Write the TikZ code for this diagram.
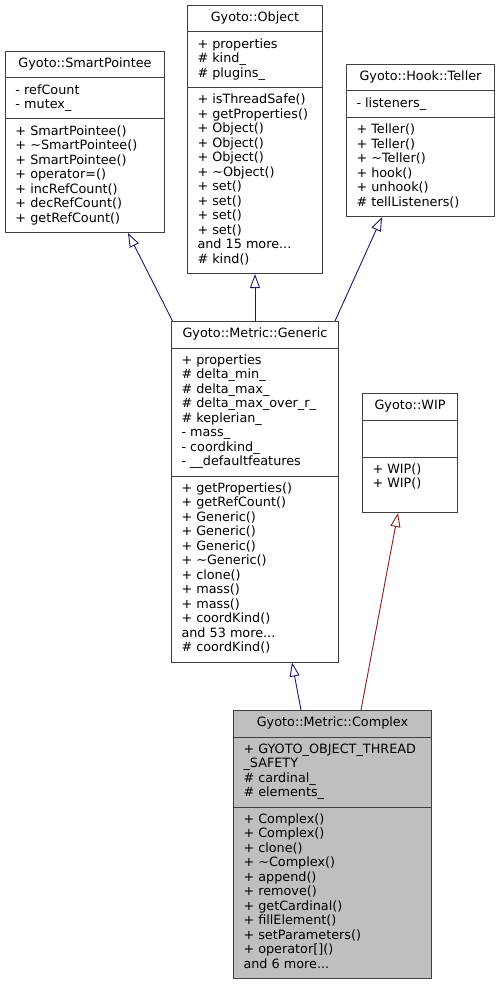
\documentclass[tikz,border=0pt]{standalone}
\usepackage{fontspec}
\setmainfont{DejaVu Sans}
\usepackage{tikz}
\usetikzlibrary{arrows.meta,positioning,shapes.multipart}

\definecolor{pubblue}{HTML}{191970}
\definecolor{privred}{HTML}{8B1A1A}
\definecolor{boxline}{HTML}{404040}
\definecolor{boxgray}{HTML}{BFBFBF}

\begin{document}
\begin{tikzpicture}[x=1pt, y=-1pt,
  cls/.style={rectangle split, rectangle split parts=3, draw=boxline, line width=1pt,
              font=\fontsize{12.8}{14.5}\selectfont, align=left,
              rectangle split part align={center,left,left},
              inner xsep=10pt, inner ysep=5.5pt, anchor=north west},
  inh/.style={-{Triangle[open, length=14pt, width=10pt]}, pubblue, line width=0.9pt}
]
  \useasboundingbox (0,0) rectangle (499,984);

  \node[cls, minimum width=135pt] (Object) at (187,5) {\strut Gyoto::Object
    \nodepart{two}\strut + properties\\\# kind\_\\\# plugins\_\strut
    \nodepart{three}\strut + isThreadSafe()\\+ getProperties()\\+ Object()\\+ Object()\\+ Object()\\+ \textasciitilde Object()\\+ set()\\+ set()\\+ set()\\+ set()\\and 15 more...\\\# kind()\strut};
  \node[cls, minimum width=159pt] (SmartPointee) at (5,51) {\strut Gyoto::SmartPointee
    \nodepart{two}\strut - refCount\\- mutex\_\strut
    \nodepart{three}\strut + SmartPointee()\\+ \textasciitilde SmartPointee()\\+ SmartPointee()\\+ operator=()\\+ incRefCount()\\+ decRefCount()\\+ getRefCount()\strut};
  \node[cls, minimum width=148pt] (Teller) at (346,64) {\strut Gyoto::Hook::Teller
    \nodepart{two}\strut - listeners\_\strut
    \nodepart{three}\strut + Teller()\\+ Teller()\\+ \textasciitilde Teller()\\+ hook()\\+ unhook()\\\# tellListeners()\strut};

  \node[cls, minimum width=167pt] (Generic) at (171,321) {\strut Gyoto::Metric::Generic
    \nodepart{two}\strut + properties\\\# delta\_min\_\\\# delta\_max\_\\\# delta\_max\_over\_r\_\\\# keplerian\_\\- mass\_\\- coordkind\_\\- \_\_defaultfeatures\strut
    \nodepart{three}\strut + getProperties()\\+ getRefCount()\\+ Generic()\\+ Generic()\\+ Generic()\\+ \textasciitilde Generic()\\+ clone()\\+ mass()\\+ mass()\\+ coordKind()\\and 53 more...\\\# coordKind()\strut};
  \node[cls, minimum width=95pt] (WIP) at (362,393) {\strut Gyoto::WIP
    \nodepart{two}\rule[-4.35pt]{0pt}{25pt}
    \nodepart{three}\strut + WIP()\\+ WIP()\\\strut};

  \node[cls, minimum width=198pt, fill=boxgray] (Complex) at (233,710) {\strut Gyoto::Metric::Complex
    \nodepart{two}\strut + GYOTO\_OBJECT\_THREAD\\\_SAFETY\\\# cardinal\_\\\# elements\_\strut
    \nodepart{three}\strut + Complex()\\+ Complex()\\+ clone()\\+ \textasciitilde Complex()\\+ append()\\+ remove()\\+ getCardinal()\\+ fillElement()\\+ setParameters()\\+ operator[]()\\and 6 more...\strut};

  \draw[inh] ([xshift=1.5pt]Generic.north west) -- ([xshift=-37pt]SmartPointee.south east);
  \draw[inh] (Generic.north) -- (Object.south);
  \draw[inh] ([xshift=-4pt]Generic.north east) -- ([xshift=36pt]Teller.south west);
  \draw[inh] ([xshift=68pt]Complex.north west) -- ([xshift=121pt]Generic.south west);
  \draw[inh, privred] ([xshift=128pt]Complex.north west) -- ([xshift=36pt]WIP.south west);
\end{tikzpicture}
\end{document}
